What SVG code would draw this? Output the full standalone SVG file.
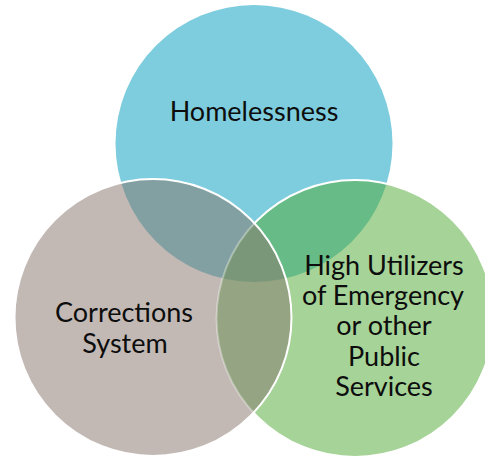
<svg xmlns="http://www.w3.org/2000/svg" width="485" height="456" viewBox="0 0 485 456">
  <style>
    .lbl { font-family: Lato, "Open Sans", "Liberation Sans", sans-serif; font-size: 27px; fill: #0d0d0d; text-anchor: middle; }
    .edge { fill: none; stroke: #ffffff; stroke-width: 2; }
  </style>
  <defs>
    <clipPath id="clipT"><circle cx="254" cy="143.5" r="138.5"/></clipPath>
    <clipPath id="clipL"><circle cx="153" cy="317.5" r="138.5"/></clipPath>
    <mask id="outsideL" maskUnits="userSpaceOnUse" x="0" y="0" width="485" height="456">
      <rect x="0" y="0" width="485" height="456" fill="#fff"/>
      <circle cx="153" cy="317.5" r="138.5" fill="#000"/>
    </mask>
    <mask id="insideL" maskUnits="userSpaceOnUse" x="0" y="0" width="485" height="456">
      <circle cx="153" cy="317.5" r="138.5" fill="#fff"/>
    </mask>
  </defs>

  <g id="homelessness">
    <circle cx="254" cy="143.5" r="138.5" fill="#7ECDDE"/>
  </g>
  <g id="high-utilizers">
    <circle cx="355" cy="318.5" r="138.5" fill="#A6D397"/>
  </g>
  <g id="corrections">
    <circle cx="153" cy="317.5" r="138.5" fill="#C2B9B5"/>
  </g>

  <g id="overlaps">
    <circle cx="153" cy="317.5" r="138.5" fill="#829FA2" clip-path="url(#clipT)"/>
    <circle cx="355" cy="318.5" r="138.5" fill="#66BB87" clip-path="url(#clipT)"/>
    <circle cx="355" cy="318.5" r="138.5" fill="#95A482" clip-path="url(#clipL)"/>
    <g clip-path="url(#clipT)">
      <circle cx="355" cy="318.5" r="138.5" fill="#7A9879" clip-path="url(#clipL)"/>
    </g>
  </g>

  <g id="outlines">
    <circle class="edge" cx="355" cy="318.5" r="138.5" mask="url(#outsideL)"/>
    <circle class="edge" cx="355" cy="318.5" r="138.5" stroke-opacity="0.35" mask="url(#insideL)"/>
    <circle class="edge" cx="153" cy="317.5" r="138.5"/>
  </g>

  <g id="labels">
    <text class="lbl" x="254" y="121">Homelessness</text>
    <text class="lbl" x="124" y="322">Corrections</text>
    <text class="lbl" x="125" y="353">System</text>
    <text class="lbl" x="384" y="275">High Utilizers</text>
    <text class="lbl" x="383" y="305">of Emergency</text>
    <text class="lbl" x="384" y="335">or other</text>
    <text class="lbl" x="384" y="366">Public</text>
    <text class="lbl" x="384" y="396">Services</text>
  </g>
</svg>
